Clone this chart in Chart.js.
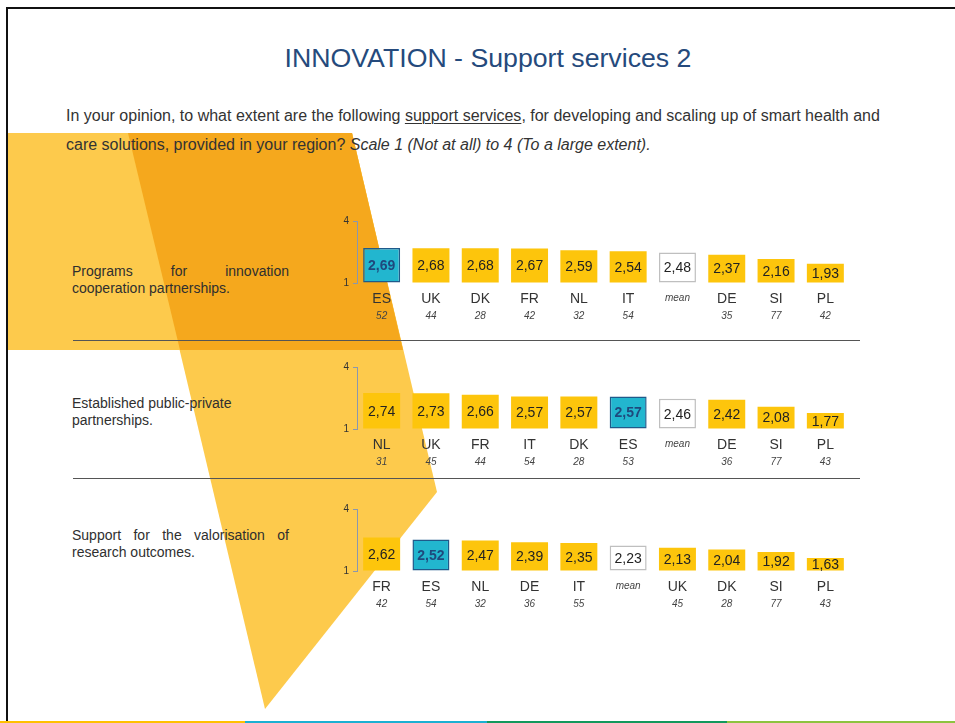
<!DOCTYPE html>
<html>
<head>
<meta charset="utf-8">
<script src="https://cdn.jsdelivr.net/npm/chart.js@4.4.1/dist/chart.umd.min.js"></script>
<style>
  html, body { margin: 0; padding: 0; background: #fff; }
  #slide { position: relative; width: 955px; height: 723px; overflow: hidden; font-family: Arial, "Liberation Sans", sans-serif; color: #333; }
  #bg { position: absolute; left: 0; top: 0; }
  .abs { position: absolute; }
  h1 { position: absolute; left: 0; width: 976px; top: 43px; margin: 0; font-size: 26.7px; line-height: 30px; font-weight: normal; text-align: center; color: #254A7C; }
  .question { left: 66px; top: 101px; width: 880px; font-size: 16px; line-height: 29px; color: #333; }
  .question u { text-decoration-thickness: 1px; text-underline-offset: 2px; }
  .item { left: 72px; width: 217px; font-size: 14px; line-height: 17px; color: #2f2f2f; }
  .item .just { text-align: justify; text-align-last: justify; }
  .sep { left: 73px; width: 787px; height: 1px; background: #555; }
  canvas.panel { position: absolute; }
</style>
</head>
<body>
<div id="slide">
  <!-- background decoration -->
  <svg id="bg" width="955" height="723">
    <polygon points="8,133 352,133 403,350 8,350" fill="#FDCA4C"/>
    <polygon points="128,133 352,133 437,492 265,709" fill="#FDCA4C"/>
    <polygon points="128,133 352,133 403,350 180,350" fill="#F5A81D"/>
    <rect x="6" y="7" width="949" height="2" fill="#111"/>
    <rect x="6" y="7" width="2" height="714" fill="#111"/>
    <rect x="0" y="721" width="245" height="2" fill="#FFC000"/>
    <rect x="245" y="721" width="242" height="2" fill="#1BB0D2"/>
    <rect x="487" y="721" width="240" height="2" fill="#12985C"/>
    <rect x="727" y="721" width="228" height="2" fill="#8DC33F"/>
  </svg>

  <h1>INNOVATION - Support services 2</h1>
  <div class="abs question">In your opinion, to what extent are the following <u>support services</u>, for developing and scaling up of smart health and<br>care solutions, provided in your region? <i>Scale 1 (Not at all) to 4 (To a large extent).</i></div>

  <div class="abs item" style="top:263px"><div class="just">Programs for innovation</div><div>cooperation partnerships.</div></div>
  <div class="abs item" style="top:395px"><div>Established public-private</div><div>partnerships.</div></div>
  <div class="abs item" style="top:527px"><div class="just">Support for the valorisation of</div><div>research outcomes.</div></div>

  <div class="abs sep" style="top:340px"></div>
  <div class="abs sep" style="top:478px"></div>

  <canvas class="panel" id="chart1" width="530" height="120" style="left:330px; top:205px"></canvas>
  <canvas class="panel" id="chart2" width="530" height="120" style="left:330px; top:351px"></canvas>
  <canvas class="panel" id="chart3" width="530" height="120" style="left:330px; top:493px"></canvas>
</div>

<script>
// panel 1: Programs for innovation cooperation partnerships
const labels1 = ['ES', 'UK', 'DK', 'FR', 'NL', 'IT', 'mean', 'DE', 'SI', 'PL'];
const values1 = [2.69, 2.68, 2.68, 2.67, 2.59, 2.54, 2.48, 2.37, 2.16, 1.93];
const counts1 = ['52', '44', '28', '42', '32', '54', '', '35', '77', '42'];

// panel 2: Established public-private partnerships
const labels2 = ['NL', 'UK', 'FR', 'IT', 'DK', 'ES', 'mean', 'DE', 'SI', 'PL'];
const values2 = [2.74, 2.73, 2.66, 2.57, 2.57, 2.57, 2.46, 2.42, 2.08, 1.77];
const counts2 = ['31', '45', '44', '54', '28', '53', '', '36', '77', '43'];

// panel 3: Support for the valorisation of research outcomes
const labels3 = ['FR', 'ES', 'NL', 'DE', 'IT', 'mean', 'UK', 'DK', 'SI', 'PL'];
const values3 = [2.62, 2.52, 2.47, 2.39, 2.35, 2.23, 2.13, 2.04, 1.92, 1.63];
const counts3 = ['42', '54', '32', '36', '55', '', '45', '28', '77', '43'];

const yTicks = [1, 4];

const FONT = 'Arial, "Liberation Sans", sans-serif';

// value inside each bar + country / count under it
const barLabels = {
  id: 'barLabels',
  afterDatasetsDraw(chart, args, opts) {
    const ctx = chart.ctx;
    const meta = chart.getDatasetMeta(0);
    const labels = chart.data.labels;
    const values = chart.data.datasets[0].data;
    const bottom = chart.chartArea.bottom;
    ctx.save();
    ctx.textAlign = 'center';
    ctx.textBaseline = 'middle';
    meta.data.forEach((bar, i) => {
      const lab = labels[i];
      const mid = (bar.y + bar.base) / 2;
      const txt = values[i].toFixed(2).replace('.', ',');
      if (lab === 'ES') {
        ctx.font = 'bold 14px ' + FONT;
        ctx.fillStyle = '#1F497D';
      } else {
        ctx.font = '14px ' + FONT;
        ctx.fillStyle = '#222';
      }
      ctx.fillText(txt, bar.x, mid + 1);

      if (lab === 'mean') {
        ctx.font = 'italic 10px ' + FONT;
        ctx.fillStyle = '#444';
        ctx.fillText('mean', bar.x, bottom + 15);
      } else {
        ctx.font = '14px ' + FONT;
        ctx.fillStyle = '#333';
        ctx.fillText(lab, bar.x, bottom + 16);
        ctx.font = 'italic 10px ' + FONT;
        ctx.fillStyle = '#444';
        ctx.fillText(opts.counts[i], bar.x, bottom + 33);
      }
    });
    ctx.restore();
  }
};

function makeChart(id, labels, values, counts) {
  const fill = labels.map(l => l === 'ES' ? '#22B6CF' : (l === 'mean' ? '#FFFFFF' : '#FDC50C'));
  const border = labels.map(l => l === 'ES' ? '#1F5A8A' : (l === 'mean' ? '#BFBFBF' : '#FDC50C'));
  const bw = labels.map(l => (l === 'ES' || l === 'mean') ? 1.5 : 0);

  return new Chart(document.getElementById(id).getContext('2d'), {
    type: 'bar',
    data: {
      labels: labels,
      datasets: [{
        data: values,
        base: 1,
        backgroundColor: fill,
        borderColor: border,
        borderWidth: bw,
        borderSkipped: false,
        barPercentage: 0.75,
        categoryPercentage: 1
      }]
    },
    options: {
      responsive: false,
      animation: false,
      layout: { padding: { top: 16, bottom: 42, right: 10, left: 0 } },
      plugins: {
        legend: { display: false },
        tooltip: { enabled: false },
        barLabels: { counts: counts }
      },
      scales: {
        x: { display: false },
        y: {
          min: 1,
          max: 4,
          beginAtZero: false,
          afterBuildTicks: (scale) => { scale.ticks = yTicks.map(v => ({ value: v })); },
          afterFit: (scale) => { scale.width = 27; },
          grid: { drawOnChartArea: false, tickLength: 4, color: '#8A97AE' },
          border: { color: '#8A97AE' },
          ticks: { font: { size: 10, family: FONT }, color: '#333', padding: 4 }
        }
      }
    },
    plugins: [barLabels]
  });
}

makeChart('chart1', labels1, values1, counts1);
makeChart('chart2', labels2, values2, counts2);
makeChart('chart3', labels3, values3, counts3);
</script>
</body>
</html>
